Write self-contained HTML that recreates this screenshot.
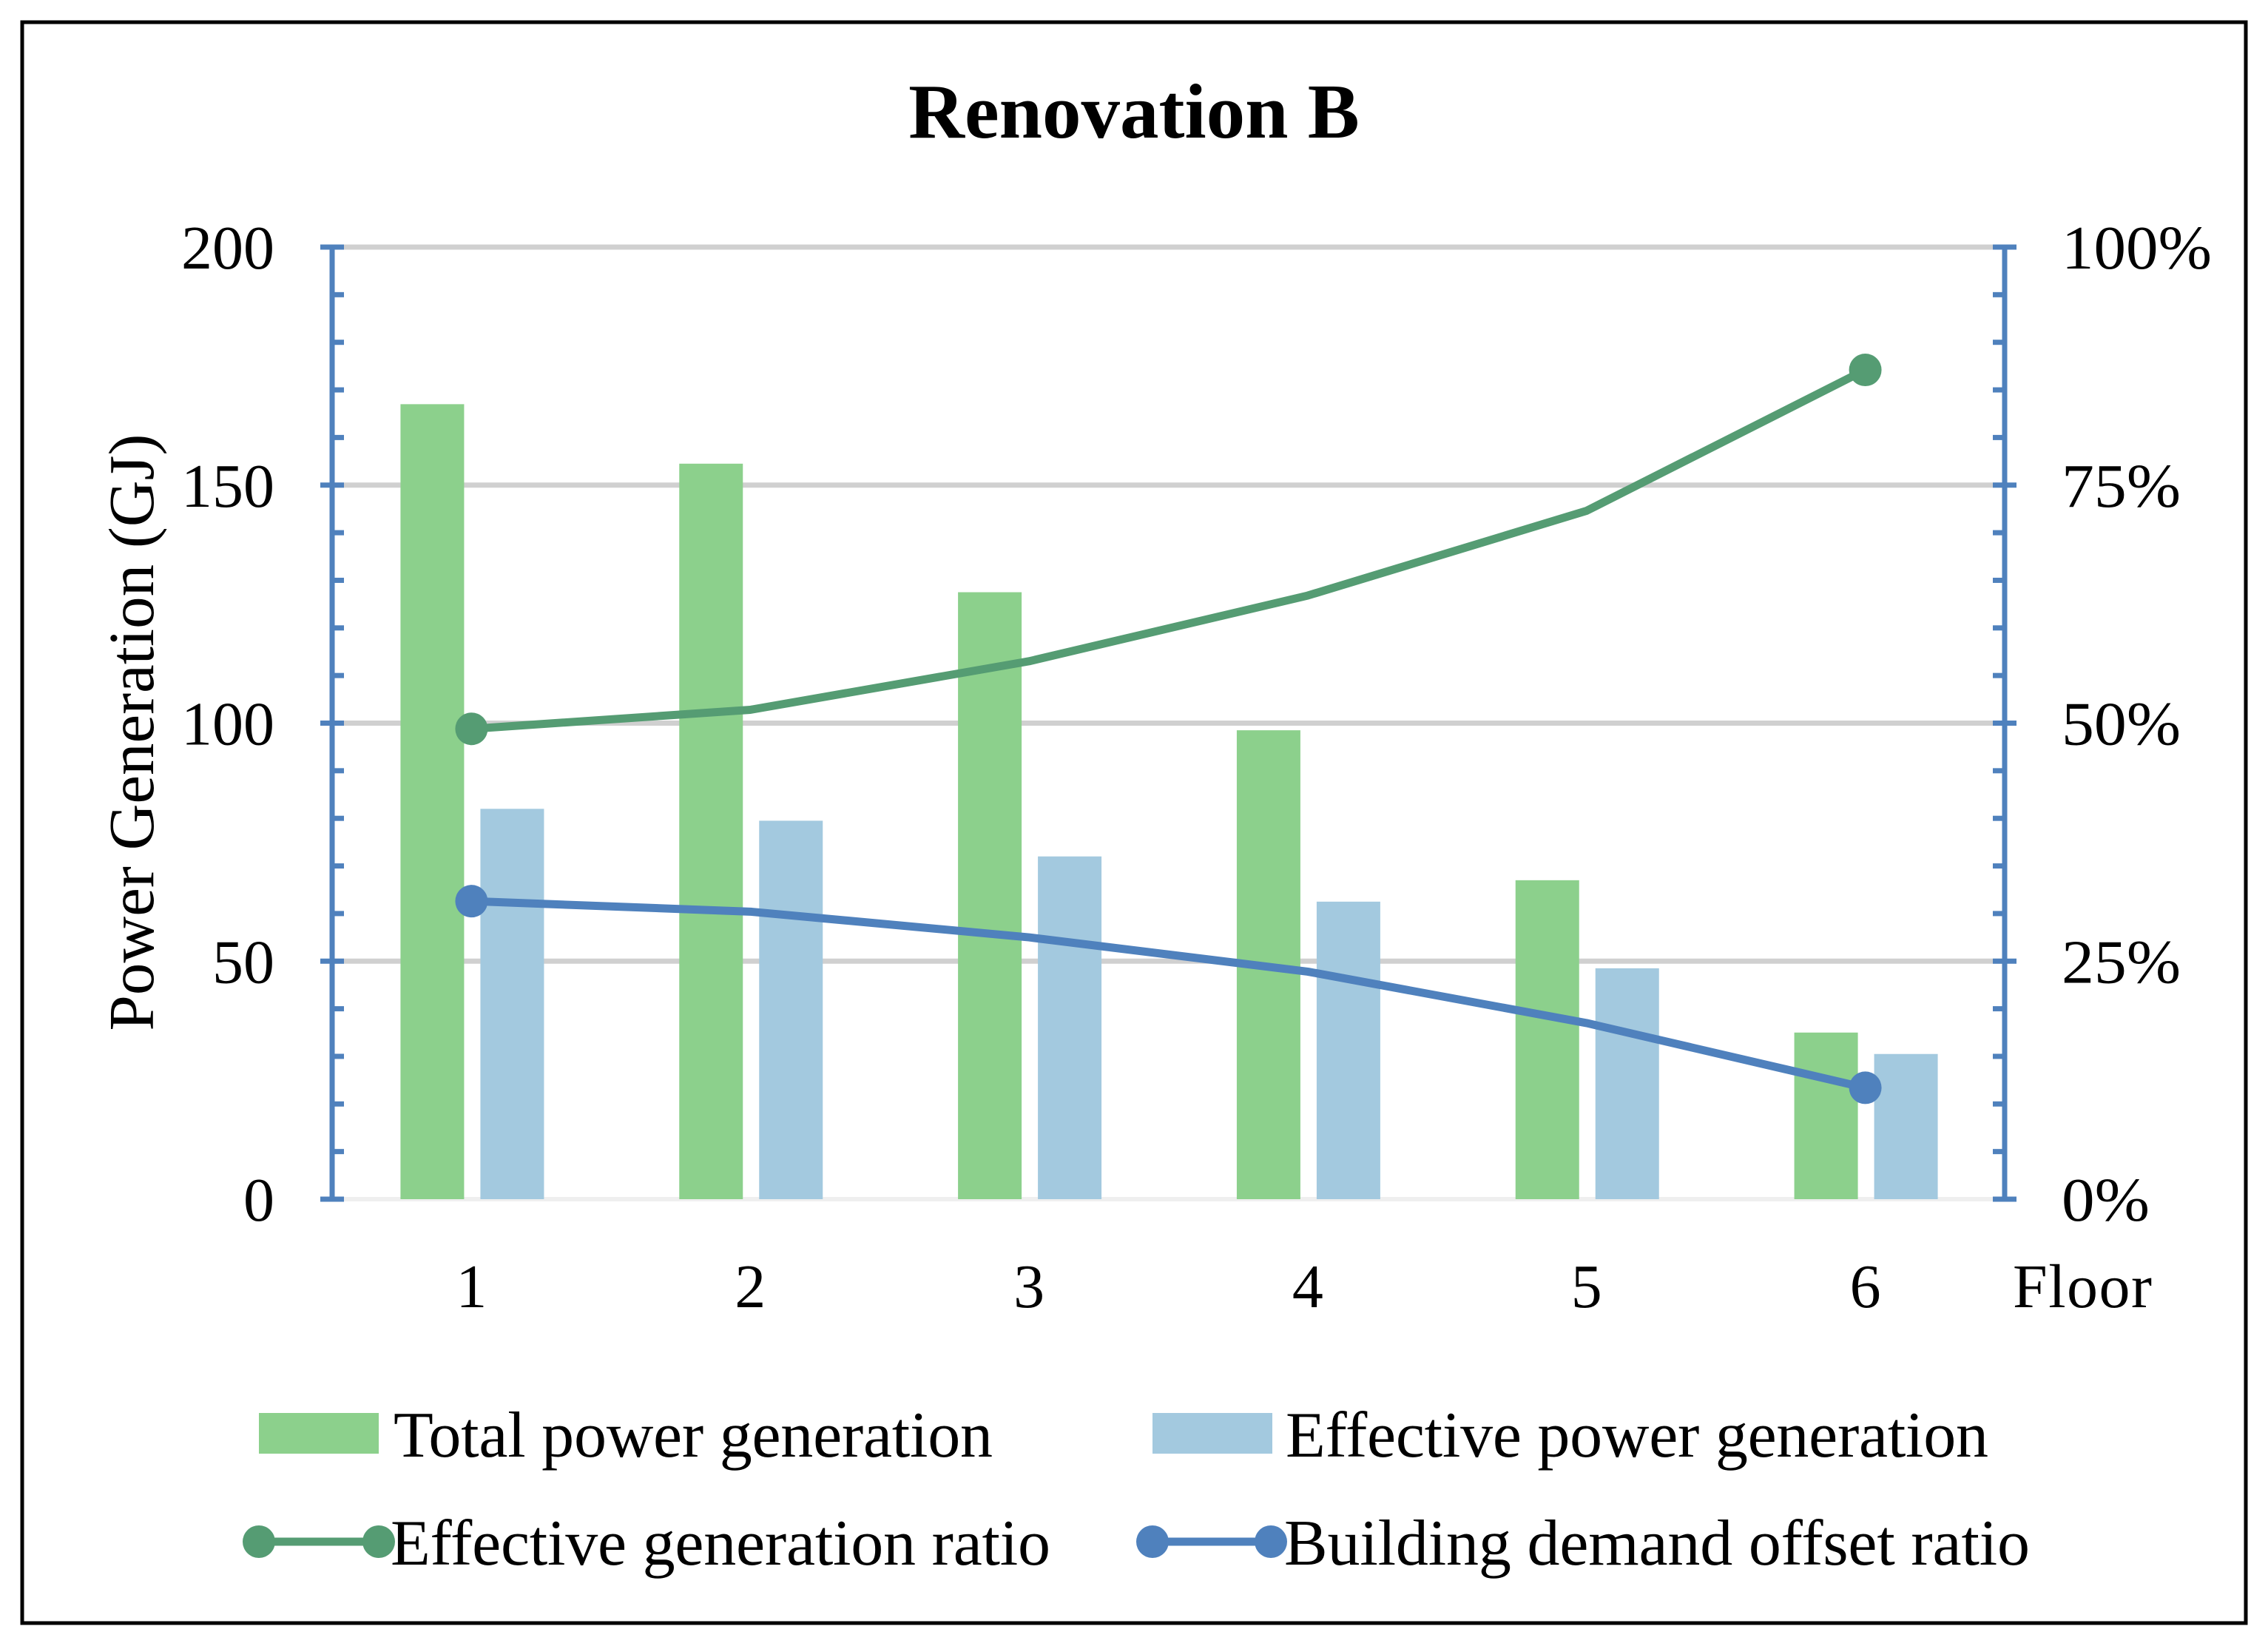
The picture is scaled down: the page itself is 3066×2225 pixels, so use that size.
<!DOCTYPE html>
<html><head><meta charset="utf-8"><style>
html,body{margin:0;padding:0;background:#fff;}
svg{display:block;font-family:"Liberation Serif",serif;}
</style></head><body>
<svg id="chart" width="3066" height="2225" viewBox="0 0 3066 2225">
<rect x="30" y="30" width="3006" height="2164" fill="#fff" stroke="#000" stroke-width="5"/>
<text x="1533" y="186" text-anchor="middle" font-size="105" font-weight="bold">Renovation B</text>
<text transform="translate(207,990) rotate(-90)" text-anchor="middle" font-size="87">Power Generation (GJ)</text>
<g id="grid"></g><g id="bars"></g><g id="axes"></g><g id="lines"></g>
<text x="2721" y="1767" font-size="84" textLength="188">Floor</text>
<g>
<rect x="350" y="1910" width="162" height="55" fill="#8cd08c"/>
<text x="532" y="1969" font-size="88" textLength="810">Total power generation</text>
<rect x="1558" y="1910" width="162" height="55" fill="#a3c9df"/>
<text x="1738" y="1969" font-size="88" textLength="950">Effective power generation</text>
<line x1="350" y1="2084" x2="512" y2="2084" stroke="#559c73" stroke-width="11"/>
<circle cx="350" cy="2084" r="22" fill="#559c73"/>
<circle cx="512" cy="2084" r="22" fill="#559c73"/>
<text x="528" y="2115" font-size="88" textLength="892">Effective generation ratio</text>
<line x1="1558" y1="2084" x2="1718" y2="2084" stroke="#4f81bd" stroke-width="11"/>
<circle cx="1558" cy="2084" r="22" fill="#4f81bd"/>
<circle cx="1718" cy="2084" r="22" fill="#4f81bd"/>
<text x="1736" y="2115" font-size="88" textLength="1008">Building demand offset ratio</text>
</g>
</svg>
<script>
const categories = ["1","2","3","4","5","6"];
const totalGen = [167, 154.5, 127.5, 98.5, 67, 35];
const effectiveGen = [82, 79.5, 72, 62.5, 48.5, 30.5];
const genRatio = [49.4, 51.4, 56.5, 63.4, 72.3, 87.1];
const offsetRatio = [31.3, 30.2, 27.5, 23.9, 18.5, 11.7];
const leftTicks = [0, 50, 100, 150, 200];
const rightTicks = ["0%","25%","50%","75%","100%"];

const NS = "http://www.w3.org/2000/svg";
const X0 = 449, X1 = 2710, Y0 = 1621, Y1 = 334;
const step = (X1 - X0) / categories.length;
const xc = i => X0 + step * (i + 0.5);
const yL = v => Y0 - (v / 200) * (Y0 - Y1);
const yR = v => Y0 - (v / 100) * (Y0 - Y1);
function mk(tag, attrs, parent) {
  const el = document.createElementNS(NS, tag);
  for (const k in attrs) el.setAttribute(k, attrs[k]);
  document.getElementById(parent).appendChild(el);
  return el;
}
leftTicks.forEach((t, i) => {
  const y = yL(t);
  if (t > 0) {
    const g = mk("line", {x1: X0, x2: X1, y1: y, y2: y, stroke: "#d0d0d0", "stroke-width": 7}, "grid");
    
    
  }
  const tl = mk("text", {x: 371, y: y + 29, "text-anchor": "end", "font-size": 84}, "axes");
  tl.textContent = t;
  
  
  const lab = rightTicks[i];
  const tr = mk("text", {x: 2787, y: y + 29, "font-size": 84, textLength: lab.length * 42 + 35, lengthAdjust: "spacingAndGlyphs"}, "axes");
  tr.textContent = lab;
  
  
});
const base = mk("line", {x1: X0, x2: X1, y1: Y0, y2: Y0, stroke: "#efefef", "stroke-width": 6}, "grid");


[X0, X1].forEach((x, k) => {
  const a = mk("line", {x1: x, x2: x, y1: Y1 - 3, y2: Y0 + 3, stroke: "#4f81bd", "stroke-width": 7}, "axes");
  
  
  for (let v = 0; v <= 200; v += 10) {
    const y = yL(v);
    const major = v % 50 === 0;
    const dir = k === 0 ? 1 : -1;
    const x1 = major ? x - 16 * dir : x;
    const x2 = x + 16 * dir;
    const t = mk("line", {x1: x1, x2: x2, y1: y, y2: y, stroke: "#4f81bd", "stroke-width": 7}, "axes");
    
    
  }
});
categories.forEach((c, i) => {
  const cx = xc(i);
  const g = mk("rect", {x: cx - 96, y: yL(totalGen[i]), width: 86, height: Y0 - yL(totalGen[i]), fill: "#8cd08c"}, "bars");
  
  
  const b = mk("rect", {x: cx + 12, y: yL(effectiveGen[i]), width: 86, height: Y0 - yL(effectiveGen[i]), fill: "#a3c9df"}, "bars");
  
  
  const l = mk("text", {x: cx, y: 1767, "text-anchor": "middle", "font-size": 84}, "axes");
  l.textContent = c;
  
  
});
function series(vals, color, name) {
  const pts = vals.map((v, i) => xc(i) + "," + yR(v)).join(" ");
  const p = mk("polyline", {points: pts, fill: "none", stroke: color, "stroke-width": 11, "stroke-linejoin": "round"}, "lines");
  
  
  [0, vals.length - 1].forEach(i => {
    const m = mk("circle", {cx: xc(i), cy: yR(vals[i]), r: 22, fill: color}, "lines");
    
    
  });
}
series(genRatio, "#559c73", "gen-ratio");
series(offsetRatio, "#4f81bd", "offset-ratio");
</script>
</body></html>
